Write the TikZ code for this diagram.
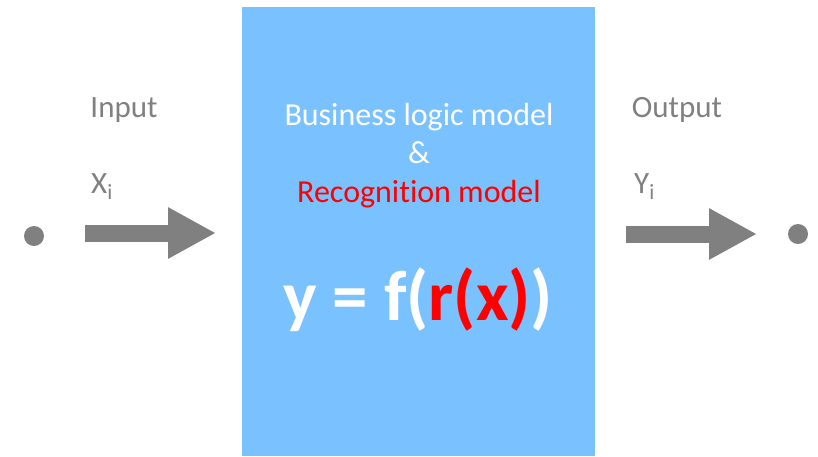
\documentclass[tikz,border=0pt]{standalone}
\usepackage{fontspec}
\setmainfont[Ligatures={NoCommon}]{Carlito}
\usepackage{xcolor}
\usetikzlibrary{arrows.meta}
\definecolor{boxblue}{HTML}{79C1FF}
\definecolor{flowgray}{HTML}{808080}
\definecolor{recred}{HTML}{FF0000}
\tikzset{
  flowtext/.style={anchor=base,text=flowgray,font=\fontsize{31}{37}\selectfont,inner sep=0pt},
  boxtext/.style={anchor=base,text=white,font=\fontsize{32}{38}\selectfont,inner sep=0pt},
  flowdot/.style={circle,fill=flowgray,minimum size=20pt,inner sep=0pt},
  flowarrow/.style={flowgray,line width=17pt,-{Triangle[length=48pt,width=48pt]}}
}
\begin{document}
\begin{tikzpicture}[x=1pt,y=-1pt]
    \useasboundingbox (0,0) rectangle (818,456);

        \fill[boxblue] (242,7) rectangle (595,456);
        \node[boxtext] (biz) at (419,125) {Business logic model};
        \node[boxtext] (amp) at (419,163) {\&};
        \node[boxtext,text=recred] (rec) at (419,202) {Recognition model};
        \node[boxtext,font=\fontsize{71}{84}\selectfont\bfseries] (eq) at (418,320)
            {y = f(\textcolor{recred}{r(x)})};

        \node[flowdot] (src) at (34,236) {};
        \node[flowdot] (dst) at (798,234) {};
        \node[flowtext] (inlbl) at (124,117) {Input};
        \node[flowtext] (outlbl) at (677,117) {Output};
        \node[flowtext,anchor=base west] (xi) at (91,193) {X\textsubscript{i}};
        \node[flowtext,anchor=base west] (yi) at (634,193) {Y\textsubscript{i}};

        \coordinate (inA) at (85,233);
        \coordinate (inB) at (216,233);
        \coordinate (outA) at (626,234);
        \coordinate (outB) at (757,234);
        \draw[flowarrow] (inA) -- (inB);
        \draw[flowarrow] (outA) -- (outB);

        \end{tikzpicture}
\end{document}
